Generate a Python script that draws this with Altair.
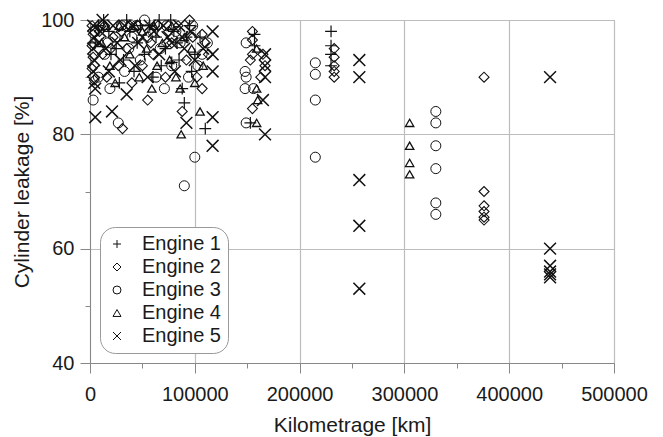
import altair as alt
import pandas as pd

engines = ["Engine 1", "Engine 2", "Engine 3", "Engine 4", "Engine 5"]

e1_km = [13000, 77000, 5000, 18000, 25000, 32000, 38000, 45000, 52000, 57000, 63000, 68000,
         72000, 80000, 85000, 88000, 90000, 92000, 97000, 100000, 110000, 60000, 42000, 28000,
         78000, 157000, 157000, 153000, 230000, 230000, 230000, 230000,
         8000, 35000, 48000, 66000, 83000, 95000, 20000, 105000]
e1_pct = [100, 100, 96, 98, 95, 93, 98, 96, 94, 99, 97, 92,
          95, 98, 93, 88, 85.5, 97, 91, 94, 81, 90, 91, 89,
          92.6, 97.5, 95.5, 82, 98, 95.5, 94, 92,
          99, 100, 99, 100, 96, 99, 94, 97]

e2_km = [2000, 3000, 2000, 3000, 2000, 4000, 9000, 12000, 16000, 22000, 27000, 31000, 35000,
         40000, 46000, 50000, 55000, 58000, 65000, 72000, 78000, 84000, 88000, 92000, 98000,
         102000, 107000, 107000, 113000, 155000, 155000, 155000, 153000, 165000, 167000, 163000,
         155000, 233000, 233000, 233000, 233000, 233000, 376000, 376000, 376000, 376000, 376000,
         376000, 14000, 30000, 38000, 60000, 75000, 95000, 110000, 20000]
e2_pct = [99, 97.5, 95.5, 93.5, 91.5, 89.5, 98, 94, 90, 97, 92, 81, 95,
          89, 99, 92, 86, 96, 99, 90, 96, 99, 84, 93, 97,
          90, 88, 97.5, 94, 98, 96.5, 94, 93, 94, 92, 90,
          84.5, 95, 93.5, 92, 91, 90, 90, 70, 67.5, 66.5, 65.5,
          65, 99, 98, 99, 94, 98, 100, 96, 95]

e3_km = [3000, 5000, 8000, 14000, 19000, 24000, 27000, 33000, 37000, 44000, 48000, 55000,
         63000, 67000, 71000, 73000, 78000, 86000, 90000, 94000, 100000, 103000, 112000,
         149000, 148000, 149000, 148000, 156000, 149000, 215000, 215000, 215000, 215000,
         330000, 330000, 330000, 330000, 330000, 330000,
         12000, 30000, 40000, 52000, 60000, 82000, 98000, 107000, 17000]
e3_pct = [86, 98, 90, 94, 88, 97, 82, 91, 95, 99, 93, 97,
          90, 95, 88, 99, 92, 96, 71, 90, 76, 92, 96,
          96, 91, 90, 88, 88, 82, 92.5, 90.5, 86, 76,
          84, 82, 78, 74, 68, 66,
          99, 99, 97, 100, 98, 98, 99, 94, 96]

e4_km = [11000, 19000, 24000, 33000, 38000, 47000, 54000, 59000, 64000, 69000, 76000, 82000,
         86000, 87000, 97000, 105000, 108000, 159000, 159000, 160000, 159000,
         305000, 305000, 305000, 305000,
         15000, 28000, 43000, 50000, 61000, 78000, 90000, 100000]
e4_pct = [96, 92, 89, 97, 94, 90, 95, 88, 92, 96, 93, 90,
          88, 80, 95, 84, 92, 95, 88, 86, 82,
          82, 78, 75, 73,
          99, 99, 99, 98, 99, 99, 97, 89]

e5_km = [3000, 4000, 3000, 4000, 3000, 4000, 5000, 5000, 10000, 15000, 18000, 21000, 26000,
         29000, 35000, 40000, 43000, 50000, 55000, 61000, 66000, 74000, 81000, 85000, 90000,
         92000, 96000, 117000, 117000, 117000, 117000, 117000, 167000, 167000, 167000, 165000,
         167000, 257000, 257000, 257000, 257000, 257000, 439000, 439000, 439000, 439000, 439000,
         439000, 8000, 12000, 22000, 33000, 46000, 57000, 70000, 78000, 88000, 100000, 108000]
e5_pct = [99, 97, 95, 93, 91, 89, 88, 83, 98, 95, 91, 84, 96,
          93, 87, 99, 92, 97, 90, 98, 94, 97, 91, 99, 95,
          82, 98, 98, 94, 91, 83, 78, 94, 92, 90, 86,
          80, 93, 90, 72, 64, 53, 90, 60, 57, 56, 55.5,
          55, 96, 100, 99, 99, 96, 99, 99, 96, 97, 93, 95]

x_ticks = [0, 50000, 100000, 150000, 200000, 250000, 300000, 350000, 400000, 450000, 500000]
y_ticks = [40, 50, 60, 70, 80, 90, 100]

kms = [e1_km, e2_km, e3_km, e4_km, e5_km]
pcts = [e1_pct, e2_pct, e3_pct, e4_pct, e5_pct]
rows = []
for name, ks, ps in zip(engines, kms, pcts):
    for k, p in zip(ks, ps):
        rows.append({"engine": name, "km": k, "pct": p})
df = pd.DataFrame(rows)

PLUS = "M-1,0L1,0M0,-1L0,1"
XSHAPE = "M-1,-1L1,1M-1,1L1,-1"
shapes = [PLUS, "diamond", "circle", "triangle-up", XSHAPE]
sizes = [140, 100, 100, 70, 140]
strokes = [1.2, 1.1, 1.0, 1.3, 1.5]

FONT = "Liberation Sans"
TXT = "#1a1a1a"

xscale = alt.Scale(domain=[0, 500000], nice=False, zero=False)
yscale = alt.Scale(domain=[40, 100], nice=False, zero=False)

x_major = "datum.value % 100000 === 0"
y_major = "datum.value % 20 === 0"

x_enc = alt.X("km:Q", scale=xscale, title="Kilometrage [km]",
              axis=alt.Axis(values=x_ticks, format="d", grid=True,
                            tickSize={"condition": {"test": x_major, "value": 10}, "value": 5},
                            gridOpacity={"condition": {"test": x_major, "value": 1}, "value": 0},
                            labelExpr=f"{x_major} ? datum.label : ''",
                            labelPadding=11, titlePadding=10, labelFontSize=20,
                            titleFontSize=21, labelFlush=False))
y_enc = alt.Y("pct:Q", scale=yscale, title="Cylinder leakage [%]",
              axis=alt.Axis(values=y_ticks, grid=True,
                            tickSize={"condition": {"test": y_major, "value": 10}, "value": 5},
                            gridOpacity={"condition": {"test": y_major, "value": 1}, "value": 0},
                            labelExpr=f"{y_major} ? datum.label : ''",
                            labelPadding=6, titlePadding=8, labelFontSize=20,
                            titleFontSize=21, labelFlush=False))
shape_enc = alt.Shape("engine:N", title=None,
                      scale=alt.Scale(domain=engines, range=shapes),
                      legend=alt.Legend(orient="none", legendX=10, legendY=207,
                                        labelFontSize=20, labelFont=FONT, labelColor=TXT,
                                        symbolSize=64, symbolStrokeWidth=1,
                                        symbolStrokeColor="#111",
                                        symbolFillColor="transparent",
                                        padding=7, rowPadding=3, labelOffset=15,
                                        strokeColor="#999", cornerRadius=15,
                                        fillColor="white"))

layers = []
for name, s, w in zip(engines, sizes, strokes):
    layers.append(
        alt.Chart(df)
        .transform_filter(alt.datum.engine == name)
        .mark_point(filled=False, size=s, color="#111", strokeWidth=w, opacity=1)
        .encode(x=x_enc, y=y_enc, shape=shape_enc)
    )

chart = (
    alt.layer(*layers)
    .properties(width=524, height=343,
                autosize=alt.AutoSizeParams(type="none"),
                padding={"left": 90, "top": 20, "right": 49, "bottom": 74},
                background="white")
    .configure(font=FONT)
    .configure_view(stroke="#999", strokeWidth=1)
    .configure_axis(domainColor="#888", tickColor="#888", gridColor="#bdbdbd",
                    gridWidth=1.2, labelColor=TXT, titleColor=TXT, labelFont=FONT,
                    titleFont=FONT, titleFontWeight="normal")
)

chart.save("out.html", embed_options={"renderer": "svg", "actions": False})
